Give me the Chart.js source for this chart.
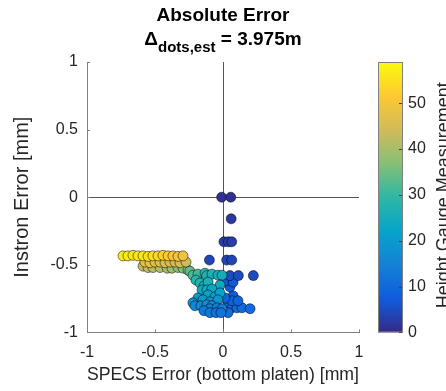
<!DOCTYPE html>
<html><head><meta charset="utf-8">
<script src="https://cdn.jsdelivr.net/npm/chart.js@4.4.1/dist/chart.umd.min.js"></script>
<style>html,body{margin:0;padding:0;background:#fff;overflow:hidden}</style>
</head><body>
<canvas id="c" width="446" height="391" style="width:446px;height:391px;display:block"></canvas>
<script>
// ---- data ----
const titleLine1 = "Absolute Error";
const titleDelta = "\u0394";
const titleSub = "dots,est";
const titleValue = " = 3.975m";
const xLabel = "SPECS Error (bottom platen) [mm]";
const yLabel = "Instron Error [mm]";
const cbLabel = "Height Gauge Measurement";
const axisRange = [-1, 1];
const axisTicks = [-1, -0.5, 0, 0.5, 1];
const cbRange = [0, 59];
const cbTicks = [0, 10, 20, 30, 40, 50];

const specsError = [
  // column near zero (dark blue)
  -0.01, 0.057, 0.06, 0.007, 0.04, 0.064, -0.10, 0.027, 0.064,
  // right blue
  0.029, 0.066, 0.103, 0.14, 0.199, 0.037, 0.074, 0.066, 0.015, 0.11, 0.051, 0.022, 0.074,
  0.051, 0.113, 0.223,
  // green row
  -0.588, -0.551, -0.515, -0.463, -0.41, -0.375, -0.331, -0.294, -0.257,
  // orange row
  -0.574, -0.537, -0.50, -0.463, -0.426, -0.39, -0.353, -0.316, -0.272,
  // yellow row
  -0.735, -0.699, -0.662, -0.625, -0.588, -0.551, -0.515, -0.478, -0.441, -0.404, -0.368, -0.331, -0.294,
  // diagonal teal
  -0.243, -0.221, -0.184, -0.132, -0.12, -0.081, -0.037, -0.007,
  -0.199, -0.169, -0.14, -0.11, -0.022, -0.154, -0.118, -0.081,
  -0.11, -0.059, -0.022, -0.184, -0.147, -0.096, -0.037, -0.221,
  -0.206, -0.162, -0.118, -0.081, -0.096, -0.044, -0.007,
  -0.14, -0.096, -0.051, -0.015
];
const instronError = [
  0.0, 0.0, -0.16, -0.33, -0.33, -0.33, -0.465, -0.465, -0.465,
  -0.818, -0.818, -0.818, -0.818, -0.825, -0.854, -0.73, -0.766, -0.745, -0.766, -0.664, -0.62, -0.628,
  -0.58, -0.58, -0.58,
  -0.51, -0.52, -0.52, -0.52, -0.525, -0.525, -0.52, -0.525, -0.54,
  -0.48, -0.485, -0.48, -0.48, -0.485, -0.48, -0.48, -0.485, -0.48,
  -0.434, -0.434, -0.43, -0.434, -0.434, -0.438, -0.434, -0.434, -0.43, -0.434, -0.434, -0.438, -0.434,
  -0.547, -0.577, -0.569, -0.562, -0.58, -0.569, -0.577, -0.577,
  -0.613, -0.635, -0.657, -0.628, -0.65, -0.686, -0.686, -0.679,
  -0.723, -0.737, -0.708, -0.745, -0.759, -0.774, -0.759, -0.781,
  -0.803, -0.803, -0.796, -0.803, -0.825, -0.818, -0.825,
  -0.839, -0.854, -0.854, -0.854
];
const heightGauge = [
  1, 1, 2, 3, 3, 3, 4, 4, 4,
  11, 10, 10, 10, 10, 11, 8, 9, 9, 9, 7, 7, 7,
  5, 5, 5,
  43, 43, 42, 41, 40, 39, 38, 37, 35,
  48, 48, 47, 47, 46, 46, 45, 45, 44,
  57, 57, 56, 56, 56, 55, 55, 54, 53, 52, 51, 50, 49,
  34, 32, 31, 29, 27, 27, 26, 25,
  28, 27, 26, 26, 24, 24, 24, 23,
  22, 21, 22, 20, 20, 19, 19, 18,
  16, 16, 17, 16, 15, 14, 14,
  13, 13, 12, 12
];
const parulaStops = ['#352a87','#0f5cdd','#1481d6','#06a4ca','#2eb7a4','#87bf77','#d1bb59','#fec832','#f9fb0e'];

// ---- colour helpers ----
function hexRgb(h){return [parseInt(h.slice(1,3),16),parseInt(h.slice(3,5),16),parseInt(h.slice(5,7),16)];}
function parula(v, a){
  let t = (v - cbRange[0])/(cbRange[1]-cbRange[0]);
  t = Math.max(0, Math.min(1, t));
  const n = parulaStops.length - 1;
  const i = Math.min(n-1, Math.floor(t*n));
  const f = t*n - i;
  const c0 = hexRgb(parulaStops[i]), c1 = hexRgb(parulaStops[i+1]);
  const c = c0.map((c,k)=>Math.round(c + (c1[k]-c)*f));
  return `rgba(${c[0]},${c[1]},${c[2]},${a})`;
}

const FONT = "'Liberation Sans', Arial, Helvetica, sans-serif";
const TXT = '#262626';

const decor = {
  id: 'decor',
  afterDraw(chart){
    const ctx = chart.ctx, xs = chart.scales.x, ys = chart.scales.y, cb = chart.scales.cb, a = chart.chartArea;
    ctx.save();
    // inward ticks on main axes
    ctx.strokeStyle = '#808080'; ctx.lineWidth = 1;
    xs.ticks.forEach(t => { const p = Math.round(xs.getPixelForValue(t.value)) + 0.5;
      ctx.beginPath(); ctx.moveTo(p, a.bottom); ctx.lineTo(p, a.bottom - 3); ctx.stroke(); });
    ys.ticks.forEach(t => { const p = Math.round(ys.getPixelForValue(t.value)) + 0.5;
      ctx.beginPath(); ctx.moveTo(a.left, p); ctx.lineTo(a.left + 3, p); ctx.stroke(); });
    // colorbar
    const top = cb.getPixelForValue(cbRange[1]), bot = cb.getPixelForValue(cbRange[0]);
    const x0 = a.right + 19, w = 25;
    const g = ctx.createLinearGradient(0, bot, 0, top);
    parulaStops.forEach((s, i) => g.addColorStop(i/(parulaStops.length-1), s));
    ctx.fillStyle = g;
    ctx.fillRect(x0, top, w, bot - top);
    ctx.strokeStyle = '#808080';
    ctx.strokeRect(x0 + 0.5, top + 0.5, w - 1, bot - top - 1);
    ctx.strokeStyle = '#404040';
    cbTicks.forEach(v => { const p = Math.round(cb.getPixelForValue(v)) + 0.5;
      ctx.beginPath(); ctx.moveTo(x0 + w - 1, p); ctx.lineTo(x0 + w - 4, p); ctx.stroke(); });
    // colorbar label
    ctx.save();
    ctx.translate(a.right + 90, (top + bot)/2 - 2);
    ctx.rotate(-Math.PI/2);
    ctx.fillStyle = TXT; ctx.font = `18px ${FONT}`;
    ctx.textAlign = 'center'; ctx.textBaseline = 'alphabetic';
    ctx.fillText(cbLabel, 0, 0);
    ctx.restore();
    // title
    const cx = (a.left + a.right)/2;
    ctx.fillStyle = '#000';
    ctx.textBaseline = 'alphabetic';
    ctx.font = `bold 19px ${FONT}`;
    ctx.textAlign = 'center';
    ctx.fillText(titleLine1, cx, 21);
    ctx.textAlign = 'left';
    ctx.font = `bold 19px ${FONT}`;
    const wD = ctx.measureText(titleDelta).width, wV = ctx.measureText(titleValue).width;
    ctx.font = `bold 15px ${FONT}`;
    const wS = ctx.measureText(titleSub).width;
    let sx = cx - (wD + wS + wV)/2;
    ctx.font = `bold 19px ${FONT}`;
    ctx.fillText(titleDelta, sx, 45); sx += wD;
    ctx.font = `bold 15px ${FONT}`;
    ctx.fillText(titleSub, sx, 52); sx += wS;
    ctx.font = `bold 19px ${FONT}`;
    ctx.fillText(titleValue, sx, 45);
    ctx.restore();
  }
};

const zeroGrid = c => (c.tick && c.tick.value === 0) ? '#555555' : 'rgba(0,0,0,0)';
const fmt = v => String(+v);
const fixTicks = s => { s.ticks = axisTicks.map(v => ({value: v})); };

new Chart(document.getElementById('c'), {
  type: 'scatter',
  data: {
    datasets: [{
      data: specsError.map((v, i) => ({x: v, y: instronError[i]})),
      pointRadius: 5,
      pointBorderWidth: 1,
      pointBackgroundColor: heightGauge.map(v => parula(v, 1)),
      pointBorderColor: 'rgba(0,0,0,0.5)',
      showLine: false
    }]
  },
  plugins: [decor],
  options: {
    responsive: false,
    animation: false,
    devicePixelRatio: 1,
    layout: {padding: {top: 62, left: 0, right: 0, bottom: 0}},
    plugins: {legend: {display: false}, tooltip: {enabled: false}, title: {display: false}},
    scales: {
      x: {
        type: 'linear', position: 'bottom', min: axisRange[0], max: axisRange[1],
        afterBuildTicks: fixTicks,
        ticks: {color: TXT, font: {family: FONT, size: 16}, padding: 11, maxRotation: 0, callback: fmt},
        grid: {color: zeroGrid, drawTicks: false, lineWidth: 1},
        border: {display: true, color: '#808080'},
        title: {display: true, text: xLabel, color: TXT, font: {family: FONT, size: 19}, padding: {top: 0, bottom: 2}},
        afterFit: s => { s.height = 56; }
      },
      y: {
        type: 'linear', position: 'left', min: axisRange[0], max: axisRange[1],
        afterBuildTicks: fixTicks,
        ticks: {color: TXT, font: {family: FONT, size: 16}, padding: 9, callback: fmt},
        grid: {color: zeroGrid, drawTicks: false, lineWidth: 1},
        border: {display: true, color: '#808080'},
        title: {display: true, text: yLabel, color: TXT, font: {family: FONT, size: 20}, padding: {top: 10, bottom: 0}},
        afterFit: s => { s.width = 87; }
      },
      cb: {
        type: 'linear', position: 'right', min: cbRange[0], max: cbRange[1],
        afterBuildTicks: s => { s.ticks = cbTicks.map(v => ({value: v})); },
        ticks: {color: TXT, font: {family: FONT, size: 16}, padding: 49},
        grid: {display: false, drawTicks: false},
        border: {display: false},
        afterFit: s => { s.width = 87; }
      }
    }
  }
});
</script>
</body></html>
